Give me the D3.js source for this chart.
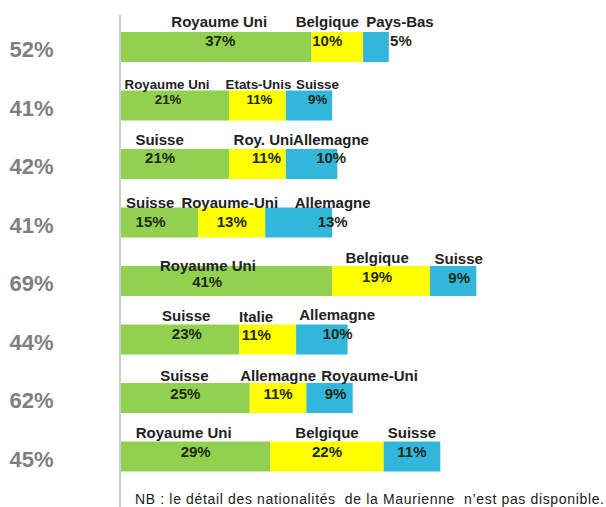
<!DOCTYPE html>
<html>
<head>
<meta charset="utf-8">
<script src="https://cdn.jsdelivr.net/npm/d3@7"></script>
<style>
  html, body { margin: 0; padding: 0; background: #fff; }
  svg { display: block; }
</style>
</head>
<body>
<svg id="chart" width="606" height="507"></svg>
<script>
// Share of foreign residents per area (left column)
const shares = [52, 41, 42, 41, 69, 44, 62, 45];

// Top three nationalities for each area
const countries = [
  ["Royaume Uni", "Belgique", "Pays-Bas"],
  ["Royaume Uni", "Etats-Unis", "Suisse"],
  ["Suisse", "Roy. Uni", "Allemagne"],
  ["Suisse", "Royaume-Uni", "Allemagne"],
  ["Royaume Uni", "Belgique", "Suisse"],
  ["Suisse", "Italie", "Allemagne"],
  ["Suisse", "Allemagne", "Royaume-Uni"],
  ["Royaume Uni", "Belgique", "Suisse"]
];

// Percentage for each of those nationalities
const values = [
  [37, 10, 5],
  [21, 11, 9],
  [21, 11, 10],
  [15, 13, 13],
  [41, 19, 9],
  [23, 11, 10],
  [25, 11, 9],
  [29, 22, 11]
];

const footnote = "NB : le détail des nationalités  de la Maurienne  n’est pas disponible.";

// ---- presentation ----
const segColors = ["#92d050", "#ffff00", "#33b6dc"];
const FONT = "'Liberation Sans', Arial, Helvetica, sans-serif";

// Hand placement of the labels: [name dx, name baseline from bar top, value dx, value baseline from bar top]
const labelNudges = [
  [[3, -5, 4, 14], [-10, -5, -10, 14], [24, -5, 25, 14]],
  [[-8, -2, -7, 13], [1, -2, 2, 13], [8.5, -2, 8.7, 13]],
  [[-15.5, -4.3, -15, 14], [6, -4.3, 9, 14], [19.5, -4.3, 19.6, 14]],
  [[-9.4, 0.6, -9, 19.6], [-2, 0.6, 0, 19.6], [34, 0.6, 34, 19.6]],
  [[-18.6, 4.7, -19.4, 20.7], [-4, -3.3, -4, 15.7], [5.5, -2, 6, 17]],
  [[6, -3.3, 6.6, 14.3], [-11.7, -2.3, -11.5, 15.7], [15.3, -4.3, 15.8, 14.3]],
  [[-1, -2, 0, 16], [0, -2, 0, 16], [40, -2, 6, 16]],
  [[-12, -3.4, 0, 15], [0, -3.4, 0, 15], [0, -3.4, 0, 15]]
];
const rowFontSize = [15, 13.3, 15, 15, 15, 15, 15, 15];

const svg = d3.select("#chart");
const barH = 30;

const x = d3.scaleLinear().domain([0, 100]).range([121, 636]);
const y = d3.scalePoint().domain(d3.range(shares.length)).range([47, 456.5]);

// vertical baseline
svg.append("line")
  .attr("x1", 120).attr("x2", 120)
  .attr("y1", 15).attr("y2", 507)
  .attr("stroke", "#bdbdbd").attr("stroke-width", 1.5);

// stacked segments
const rows = values.map((vals, i) => {
  let acc = 0;
  return vals.map((v, j) => {
    const seg = { row: i, idx: j, v, x0: acc, x1: acc + v, name: countries[i][j] };
    acc += v;
    return seg;
  });
});

const g = svg.append("g");
const rowG = g.selectAll("g.row").data(rows).join("g").attr("class", "row");

rowG.selectAll("rect")
  .data(d => d)
  .join("rect")
  .attr("x", d => x(d.x0))
  .attr("y", d => y(d.row) - barH / 2)
  .attr("width", d => x(d.x1) - x(d.x0))
  .attr("height", barH)
  .attr("fill", d => segColors[d.idx]);

// nationality names above the segments
rowG.selectAll("text.name")
  .data(d => d)
  .join("text")
  .attr("class", "name")
  .attr("x", d => (x(d.x0) + x(d.x1)) / 2 + labelNudges[d.row][d.idx][0])
  .attr("y", d => y(d.row) - barH / 2 + labelNudges[d.row][d.idx][1])
  .attr("text-anchor", "middle")
  .attr("font-family", FONT)
  .attr("font-weight", "bold")
  .attr("font-size", d => rowFontSize[d.row])
  .attr("fill", "#222")
  .text(d => d.name);

// percentage inside the segments
rowG.selectAll("text.val")
  .data(d => d)
  .join("text")
  .attr("class", "val")
  .attr("x", d => (x(d.x0) + x(d.x1)) / 2 + labelNudges[d.row][d.idx][2])
  .attr("y", d => y(d.row) - barH / 2 + labelNudges[d.row][d.idx][3])
  .attr("text-anchor", "middle")
  .attr("font-family", FONT)
  .attr("font-weight", "bold")
  .attr("font-size", d => rowFontSize[d.row])
  .attr("fill", "#1e2a14")
  .text(d => d.v + "%");

// share column on the left
svg.append("g").selectAll("text")
  .data(shares)
  .join("text")
  .attr("x", 9.5)
  .attr("y", (d, i) => y(i) + 10.4)
  .attr("font-family", FONT)
  .attr("font-weight", "bold")
  .attr("font-size", 22)
  .attr("fill", "#7f7f7f")
  .text(d => d + "%");

// footnote
svg.append("text")
  .attr("x", 135)
  .attr("y", 503.5)
  .attr("font-family", FONT)
  .attr("font-size", 14)
  .attr("fill", "#1a1a1a")
  .attr("textLength", 469)
  .attr("lengthAdjust", "spacing")
  .attr("xml:space", "preserve")
  .style("white-space", "pre")
  .text(footnote);
</script>
</body>
</html>
